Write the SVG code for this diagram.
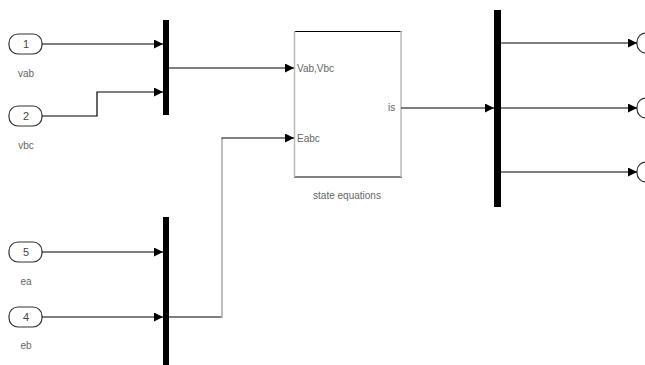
<svg xmlns="http://www.w3.org/2000/svg" width="645" height="365" viewBox="0 0 645 365">
<defs>
<marker id="arr" markerWidth="9" markerHeight="9" refX="9" refY="4.5" orient="auto" markerUnits="userSpaceOnUse">
<path d="M0,0 L9,4.5 L0,9 Z" fill="#000"/>
</marker>
<style>
.port{fill:#fff;stroke:#333;stroke-width:1.2}
.num{font-family:"Liberation Sans",Arial,sans-serif;font-size:11px;fill:#444;text-anchor:middle}
.lbl{font-family:"Liberation Sans",Arial,sans-serif;font-size:10px;fill:#666;text-anchor:middle}
.plbl{font-family:"Liberation Sans",Arial,sans-serif;font-size:10px;fill:#666}
.bar{fill:#000}
.wire{fill:none;stroke:#000;stroke-width:1.2}
.wireg{fill:none;stroke:#aaa;stroke-width:1.5}
</style>
</defs>
<rect width="645" height="365" fill="#fff"/>

<g id="in1"><rect class="port" x="9" y="34" width="33" height="20" rx="9"/><text class="num" x="26" y="48">1</text><text class="lbl" x="26" y="77">vab</text></g>
<g id="in2"><rect class="port" x="9" y="106" width="33" height="20" rx="9"/><text class="num" x="26" y="120">2</text><text class="lbl" x="26" y="149">vbc</text></g>
<g id="in5"><rect class="port" x="9" y="242" width="33" height="20" rx="9"/><text class="num" x="26" y="256">5</text><text class="lbl" x="26" y="285">ea</text></g>
<g id="in4"><rect class="port" x="9" y="307" width="33" height="20" rx="9"/><text class="num" x="26" y="321">4</text><text class="lbl" x="26" y="349">eb</text></g>

<g id="mux1"><rect class="bar" x="163" y="20" width="6" height="95"/></g>
<g id="mux2"><rect class="bar" x="163" y="217" width="6" height="148"/></g>

<g id="stateeq">
<line x1="294" y1="31.5" x2="402" y2="31.5" stroke="#000" stroke-width="1"/>
<line x1="294" y1="177" x2="402" y2="177" stroke="#000" stroke-width="1"/>
<line x1="294.5" y1="31" x2="294.5" y2="177" stroke="#bbb" stroke-width="1.5"/>
<line x1="401" y1="31" x2="401" y2="177" stroke="#bbb" stroke-width="1.5"/>
<text class="plbl" x="297" y="72">Vab,Vbc</text>
<text class="plbl" x="297" y="142">Eabc</text>
<text class="plbl" x="388" y="111">is</text>
<text class="lbl" x="347" y="199">state equations</text>
</g>

<g id="demux"><rect class="bar" x="494" y="10" width="7" height="197"/></g>

<g id="out1"><rect class="port" x="637" y="33" width="30" height="20" rx="9"/></g>
<g id="out2"><rect class="port" x="637" y="98" width="30" height="20" rx="9"/></g>
<g id="out3"><rect class="port" x="637" y="162" width="30" height="20" rx="9"/></g>

<g id="connectors">
<path class="wire" d="M42,44 H163" marker-end="url(#arr)"/>
<path class="wire" d="M42,116 H97 V92 H163" marker-end="url(#arr)"/>
<path class="wire" d="M169,68 H294" marker-end="url(#arr)"/>
<path class="wire" d="M42,252 H163" marker-end="url(#arr)"/>
<path class="wire" d="M42,317 H163" marker-end="url(#arr)"/>
<path class="wire" d="M166,317 H222"/>
<path class="wireg" d="M222,318 V138"/>
<path class="wire" d="M221.5,138 H294" marker-end="url(#arr)"/>
<path class="wire" d="M401,108 H494" marker-end="url(#arr)"/>
<path class="wire" d="M501,43 H637" marker-end="url(#arr)"/>
<path class="wire" d="M501,108 H637" marker-end="url(#arr)"/>
<path class="wire" d="M501,172 H637" marker-end="url(#arr)"/>
</g>
</svg>
